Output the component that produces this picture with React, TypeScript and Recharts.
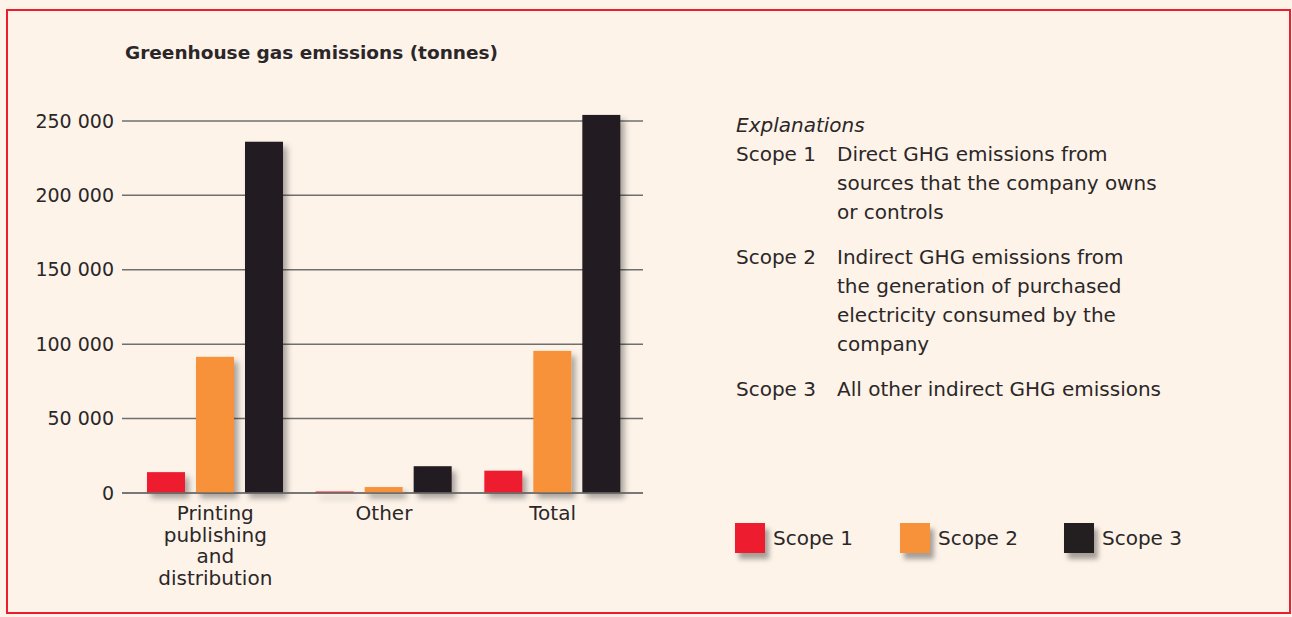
import React from 'react';
import { BarChart, Bar, XAxis, YAxis, CartesianGrid, Legend } from 'recharts';

const categories = ['Printing\npublishing\nand\ndistribution', 'Other', 'Total'];
const scope1 = [14000, 1000, 15000];
const scope2 = [91500, 4000, 95500];
const scope3 = [236000, 18000, 254000];
const yTicks = [0, 50000, 100000, 150000, 200000, 250000];
const seriesNames = ['Scope 1', 'Scope 2', 'Scope 3'];
const seriesColors = ['#ED1C2E', '#F7923A', '#231F20'];

const explanations = [
  { label: 'Scope 1', lines: ['Direct GHG emissions from', 'sources that the company owns', 'or controls'] },
  { label: 'Scope 2', lines: ['Indirect GHG emissions from', 'the generation of purchased', 'electricity consumed by the', 'company'] },
  { label: 'Scope 3', lines: ['All other indirect GHG emissions'] },
];

const FONT = '"DejaVu Sans", sans-serif';
const TEXT = '#2b2728';
const BG = '#FDF3E9';

const chartData = categories.map((name, i) => ({
  name,
  s1: scope1[i],
  s2: scope2[i],
  s3: scope3[i],
}));

const fmt = (v: number) => String(v).replace(/\B(?=(\d{3})+(?!\d))/g, ' ');

const CategoryTick = ({ x, y, payload }: any) => {
  const lines = String(payload.value).split('\n');
  return (
    <text x={x} y={y} textAnchor="middle" fill={TEXT} fontSize={20} fontFamily={FONT}>
      {lines.map((l, i) => (
        <tspan key={i} x={x} dy={i === 0 ? 25 : 21.5}>
          {l}
        </tspan>
      ))}
    </text>
  );
};

const ShadowBar = (props: any) => {
  const { x, y, width, height, fill } = props;
  if (!height || height <= 0) return null;
  return <rect x={x} y={y} width={width} height={height} fill={fill} filter="url(#barShadow)" />;
};

const LegendContent = ({ payload }: any) => (
  <div style={{ display: 'flex', fontFamily: FONT, fontSize: 20, color: TEXT }}>
    {(payload || []).map((p: any, i: number) => (
      <div key={i} style={{ display: 'flex', alignItems: 'center', width: i === 0 ? 165 : 164 }}>
        <div
          style={{
            width: 30,
            height: 30,
            background: p.color,
            boxShadow: '4px 6px 5px rgba(0,0,0,0.35)',
            marginRight: 8,
          }}
        />
        <span>{p.value}</span>
      </div>
    ))}
  </div>
);

export default function App() {
  return (
    <div style={{ position: 'absolute', left: 0, top: 0, width: 1292, height: 617, background: BG, overflow: 'hidden' }}>
      <svg width="0" height="0" style={{ position: 'absolute' }}>
        <defs>
          <filter id="barShadow" filterUnits="userSpaceOnUse" x="-50" y="-50" width="1400" height="700">
            <feDropShadow dx="4" dy="5" stdDeviation="3" floodColor="#000" floodOpacity="0.35" />
          </filter>
        </defs>
      </svg>
      <div
        style={{
          position: 'absolute',
          left: 6,
          top: 9,
          width: 1281,
          height: 601,
          border: '2px solid #ED1C2E',
        }}
      />
      <div
        style={{
          position: 'absolute',
          left: 125,
          top: 42,
          fontFamily: FONT,
          fontWeight: 'bold',
          fontSize: 18.5,
          color: TEXT,
        }}
      >
        Greenhouse gas emissions (tonnes)
      </div>

      <div style={{ position: 'absolute', left: 0, top: 0 }}>
        <BarChart
          width={1292}
          height={600}
          data={chartData}
          margin={{ top: 106, right: 649, bottom: 17, left: 0 }}
          barGap={11}
          barSize={38}
        >
          <CartesianGrid vertical={false} stroke="#6f6f6f" strokeWidth={1.5} horizontalValues={yTicks} />
          <XAxis
            dataKey="name"
            height={90}
            interval={0}
            tickLine={false}
            tickSize={0}
            axisLine={{ stroke: '#6f6f6f', strokeWidth: 1.5 }}
            tick={<CategoryTick />}
            padding={{ left: 9, right: 6 }}
          />
          <YAxis
            width={122}
            domain={[0, 260000]}
            ticks={yTicks}
            tickFormatter={fmt}
            axisLine={false}
            tickLine={false}
            tickSize={0}
            tickMargin={8}
            tick={{ fill: TEXT, fontSize: 19, fontFamily: FONT }}
          />
          <Legend
            layout="horizontal"
            verticalAlign="middle"
            align="center"
            content={<LegendContent />}
            wrapperStyle={{ position: 'absolute', left: 735, top: 523, width: 520 }}
          />
          <Bar dataKey="s1" name={seriesNames[0]} fill={seriesColors[0]} shape={<ShadowBar />} isAnimationActive={false} />
          <Bar dataKey="s2" name={seriesNames[1]} fill={seriesColors[1]} shape={<ShadowBar />} isAnimationActive={false} />
          <Bar dataKey="s3" name={seriesNames[2]} fill={seriesColors[2]} shape={<ShadowBar />} isAnimationActive={false} />
        </BarChart>
      </div>

      <div style={{ position: 'absolute', left: 736, top: 111, fontFamily: FONT, fontSize: 20, color: TEXT, lineHeight: '29px' }}>
        <div style={{ fontStyle: 'italic' }}>Explanations</div>
        {explanations.map((e, i) => (
          <div key={i} style={{ display: 'flex', marginBottom: 16 }}>
            <div style={{ width: 101, flexShrink: 0 }}>{e.label}</div>
            <div>
              {e.lines.map((l, j) => (
                <div key={j}>{l}</div>
              ))}
            </div>
          </div>
        ))}
      </div>
    </div>
  );
}
